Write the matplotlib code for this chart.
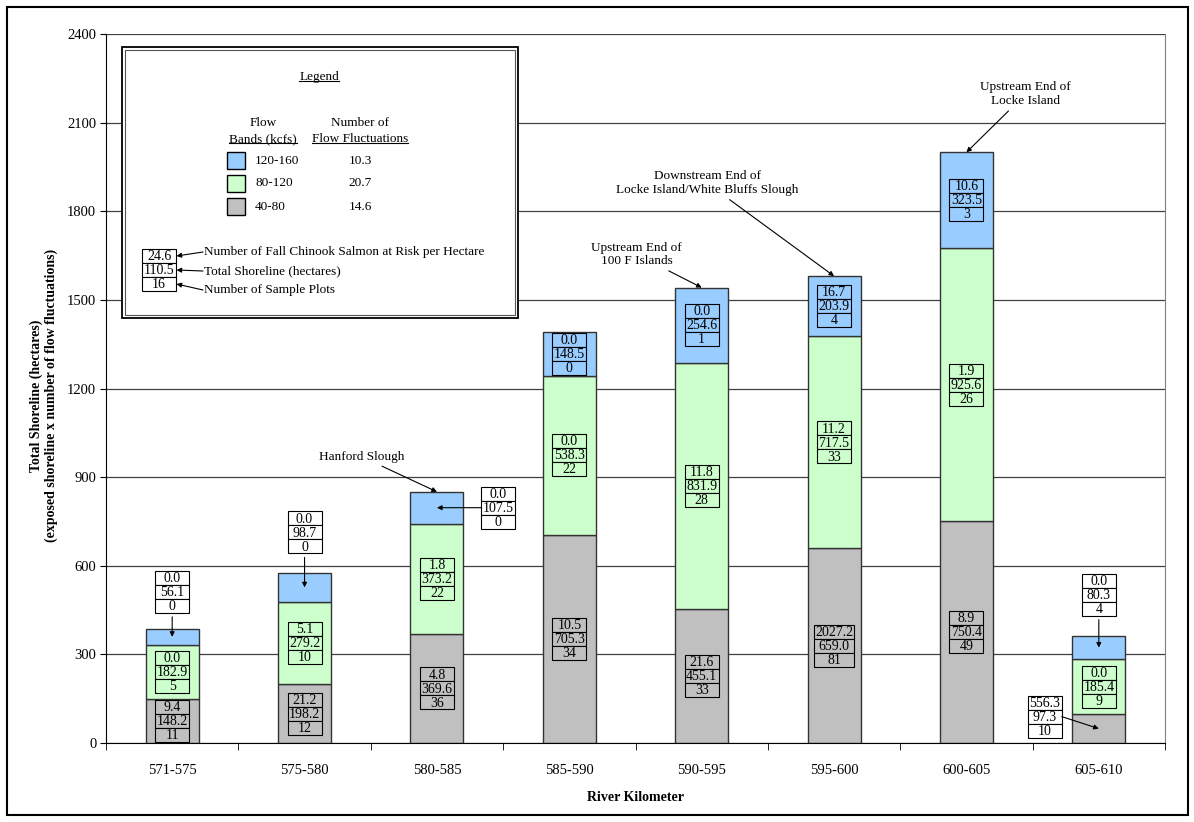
import numpy as np
import matplotlib.pyplot as plt
from matplotlib.patches import Rectangle

plt.rcParams['font.family'] = ['Liberation Serif', 'DejaVu Serif']

# river kilometer reaches
categories = ['571-575', '575-580', '580-585', '585-590', '590-595', '595-600', '600-605', '605-610']

# total shoreline (hectares) per flow band
shore_40_80 = [148.2, 198.2, 369.6, 705.3, 455.1, 659.0, 750.4, 97.3]
shore_80_120 = [182.9, 279.2, 373.2, 538.3, 831.9, 717.5, 925.6, 185.4]
shore_120_160 = [56.1, 98.7, 107.5, 148.5, 254.6, 203.9, 323.5, 80.3]

# fall chinook salmon at risk per hectare
risk_40_80 = ['9.4', '21.2', '4.8', '10.5', '21.6', '2027.2', '8.9', '556.3']
risk_80_120 = ['0.0', '5.1', '1.8', '0.0', '11.8', '11.2', '1.9', '0.0']
risk_120_160 = ['0.0', '0.0', '0.0', '0.0', '0.0', '16.7', '10.6', '0.0']

# number of sample plots
plots_40_80 = [11, 12, 36, 34, 33, 81, 49, 10]
plots_80_120 = [5, 10, 22, 22, 28, 33, 26, 9]
plots_120_160 = [0, 0, 0, 0, 1, 4, 3, 4]

# legend: flow bands and number of flow fluctuations
bands = ['120-160', '80-120', '40-80']
fluctuations = ['10.3', '20.7', '14.6']
band_colors = ['#99CCFF', '#CCFFCC', '#C0C0C0']

W, H = 1194, 822
fig = plt.figure(figsize=(W / 100, H / 100), dpi=100)
ax = fig.add_axes([106 / W, 1 - 743 / H, 1059 / W, 709 / H])

x = np.arange(len(categories))
layers = [
    (shore_40_80, risk_40_80, plots_40_80, '#C0C0C0'),
    (shore_80_120, risk_80_120, plots_80_120, '#CCFFCC'),
    (shore_120_160, risk_120_160, plots_120_160, '#99CCFF'),
]
bottom = np.zeros(len(categories))
for vals, _, _, col in layers:
    ax.bar(x, vals, width=0.4, bottom=bottom, color=col, edgecolor='#333333', linewidth=1, zorder=2)
    bottom += np.array(vals)
totals = bottom.copy()

ax.set_xlim(-0.5, len(categories) - 0.5)
ax.set_ylim(0, 2400)
ax.set_yticks(np.arange(0, 2401, 300))
ax.yaxis.grid(True, color='#404040', linewidth=0.9)
ax.set_axisbelow(True)
ax.set_xticks(x)
ax.set_xticklabels(categories)
ax.set_xticks(np.arange(-0.5, len(categories), 1), minor=True)
ax.tick_params(axis='x', which='major', length=0, pad=15, labelsize=10.5)
ax.tick_params(axis='x', which='minor', length=5, direction='out', color='black')
ax.tick_params(axis='y', length=4, direction='out', labelsize=10.5, pad=3)
for s in ['left', 'bottom']:
    ax.spines[s].set_color('black')
ax.spines['right'].set_color('#808080')
ax.spines['top'].set_visible(False)

ax.set_xlabel('River Kilometer', fontsize=10, fontweight='bold', labelpad=10)
ax.set_ylabel('Total Shoreline (hectares)\n(exposed shoreline x number of flow fluctuations)',
              fontsize=10, fontweight='bold')
ax.yaxis.set_label_coords(-0.045, 0.49)

# overlay in figure pixels for boxes, callouts and legend
ov = fig.add_axes([0, 0, 1, 1], zorder=5)
ov.set_xlim(0, W)
ov.set_ylim(0, H)
ov.axis('off')
ov.patch.set_alpha(0)

ROW = 14
arrow = dict(arrowstyle='-|>', color='black', lw=0.8, mutation_scale=7, shrinkA=0, shrinkB=0)


def stat_box(cx, cy, rows, face):
    w = max(34, 6.7 * max(len(r) for r in rows))
    top = cy + 1.5 * ROW
    for k, r in enumerate(rows):
        y0 = top - (k + 1) * ROW
        ov.add_patch(Rectangle((cx - w / 2, y0), w, ROW, facecolor=face,
                               edgecolor='black', linewidth=0.8))
        ov.text(cx, y0 + 2.8, r, ha='center', va='baseline', fontsize=10)
    return w


# boxes that sit outside their segment: (bar, band) -> pixel offset
callouts = {(0, 2): (0, 45), (1, 2): (0, 55), (2, 2): (61, 0), (7, 2): (0, 53), (7, 0): (-54, 12)}

bottom = np.zeros(len(categories))
for b, (vals, risk, plots, col) in enumerate(layers):
    for i in range(len(categories)):
        mid = bottom[i] + vals[i] / 2
        px, py = ax.transData.transform((x[i], mid))
        rows = [risk[i], f'{vals[i]:.1f}', str(plots[i])]
        if (i, b) in callouts:
            dx, dy = callouts[(i, b)]
            cx, cy = px + dx, py + dy
            w = stat_box(cx, cy, rows, 'white')
            if dx > 0:
                start = (cx - w / 2, cy)
            elif dx < 0:
                start = (cx + w / 2, cy)
            else:
                start = (cx, cy - 1.5 * ROW - 4)
            ov.annotate('', xy=(px, py), xytext=start, arrowprops=arrow)
        else:
            stat_box(px, py, rows, col)
    bottom += np.array(vals)

# site annotations at bar tops
notes = [
    (2, 'Hanford Slough', -75, 35),
    (4, 'Upstream End of\n100 F Islands', -65, 33),
    (5, 'Downstream End of\nLocke Island/White Bluffs Slough', -127, 93),
    (6, 'Upstream End of\nLocke Island', 59, 58),
]
for i, label, dx, dy in notes:
    px, py = ax.transData.transform((x[i], totals[i]))
    ov.annotate(label, xy=(px, py), xytext=(px + dx, py + dy), ha='center', va='center',
                multialignment='center', fontsize=9.5, linespacing=1.2,
                arrowprops=dict(arrowstyle='-|>', color='black', lw=0.8, mutation_scale=7,
                                shrinkA=1, shrinkB=0))

# legend box
def Y(y):
    return H - y


ov.add_patch(Rectangle((122, Y(318)), 396, 271, facecolor='white', edgecolor='black', linewidth=1.3))
ov.add_patch(Rectangle((125, Y(315)), 390, 265, facecolor='none', edgecolor='#555555', linewidth=0.8))

renderer = fig.canvas.get_renderer()


def underline(t):
    bb = t.get_window_extent(renderer)
    ov.plot([bb.x0, bb.x1], [bb.y0 + 1.5, bb.y0 + 1.5], color='black', lw=0.8)


fs = 9.5
underline(ov.text(319, Y(77), 'Legend', ha='center', va='center', fontsize=fs))
ov.text(263, Y(123), 'Flow', ha='center', va='center', fontsize=fs)
underline(ov.text(263, Y(139), 'Bands (kcfs)', ha='center', va='center', fontsize=fs))
ov.text(360, Y(123), 'Number of', ha='center', va='center', fontsize=fs)
underline(ov.text(360, Y(139), 'Flow Fluctuations', ha='center', va='center', fontsize=fs))
for k, (band, fl, col) in enumerate(zip(bands, fluctuations, band_colors)):
    yc = 160.5 + k * 23
    ov.add_patch(Rectangle((227, Y(yc + 8.5)), 18, 17, facecolor=col, edgecolor='black', linewidth=1))
    ov.text(255, Y(yc), band, ha='left', va='center', fontsize=fs)
    ov.text(360, Y(yc), fl, ha='center', va='center', fontsize=fs)

stat_box(159, Y(270), ['24.6', '110.5', '16'], 'white')
explain = [('Number of Fall Chinook Salmon at Risk per Hectare', 252, 256),
           ('Total Shoreline (hectares)', 271, 270),
           ('Number of Sample Plots', 290, 284)]
for label, ty, ry in explain:
    ov.text(204, Y(ty), label, ha='left', va='center', fontsize=fs)
    ov.annotate('', xy=(176.5, Y(ry)), xytext=(203, Y(ty)), arrowprops=arrow)

# frame around the whole chart
ov.add_patch(Rectangle((7, 7), 1181, 808, facecolor='none', edgecolor='black', linewidth=1.5))

plt.savefig('out.png', dpi=100)
